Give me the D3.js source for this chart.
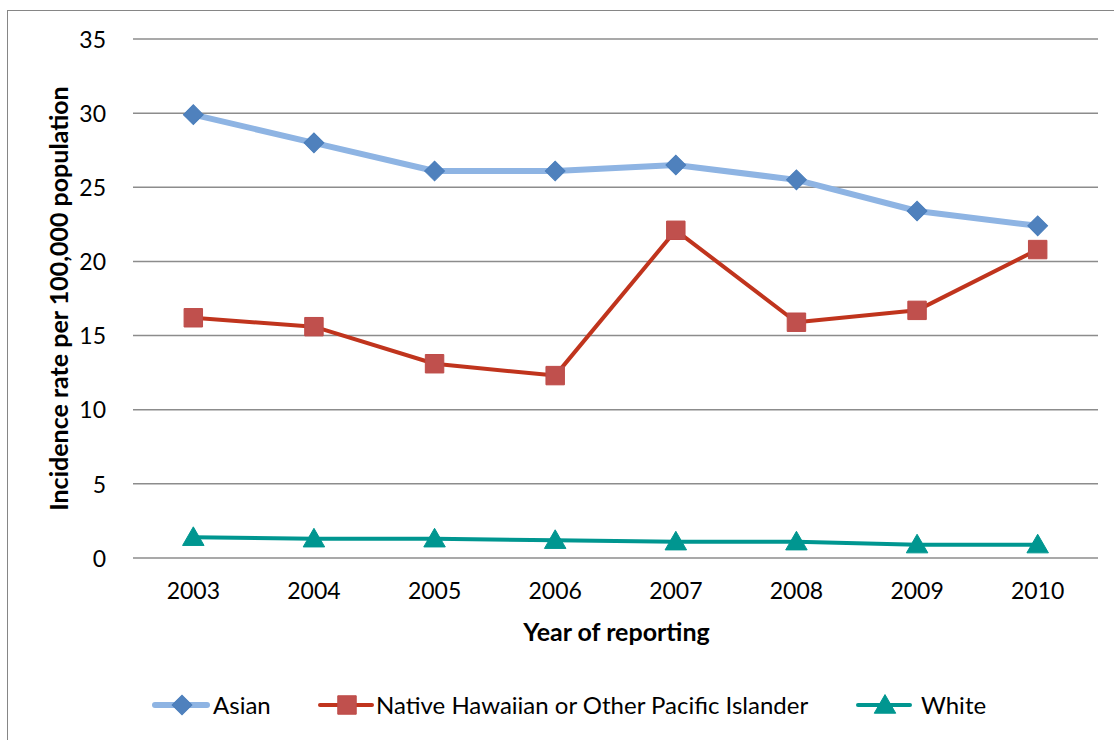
<!DOCTYPE html>
<html><head><meta charset="utf-8">
<script src="https://cdn.jsdelivr.net/npm/d3@7"></script>
<style>body{margin:0;background:#fff}svg{display:block}text{font-family:Lato,"Open Sans",sans-serif;fill:#000}</style>
</head><body><svg id="c" width="1114" height="740"></svg>
<script>
const years = ["2003","2004","2005","2006","2007","2008","2009","2010"];
const asian = [29.9,28.0,26.1,26.1,26.5,25.5,23.4,22.4];
const nhopi = [16.2,15.6,13.1,12.3,22.1,15.9,16.7,20.8];
const white = [1.4,1.3,1.3,1.2,1.1,1.1,0.9,0.9];
const yTicks = [0,5,10,15,20,25,30,35];
const seriesNames = ["Asian","Native Hawaiian or Other Pacific Islander","White"];

const svg = d3.select("#c");
svg.append("rect").attr("x",7.5).attr("y",10.5).attr("width",1120).attr("height",760)
  .attr("fill","#fff").attr("stroke","#868686").attr("stroke-width",1);

const L=133,R=1098,T=39,B=558;
const FS=23, LFS=24, TFS=25;
const x = d3.scaleBand().domain(years).range([L,R]);
const y = d3.scaleLinear().domain([0,35]).range([B,T]);
const cx = d => x(d)+x.bandwidth()/2;

svg.append("g").selectAll("line").data(yTicks).join("line")
  .attr("x1",L).attr("x2",R).attr("y1",d=>y(d)).attr("y2",d=>y(d))
  .attr("stroke","#8c8c8c").attr("stroke-width",1.5);

const yAxis = d3.axisLeft(y).tickValues(yTicks).tickSize(0).tickPadding(0);
const gy = svg.append("g").attr("transform",`translate(${L-27},0)`).call(yAxis);
gy.select(".domain").remove();
gy.selectAll("text").attr("font-size",FS).attr("font-family","Lato,sans-serif").attr("fill","#000").attr("dy","0.36em");

const xAxis = d3.axisBottom(x).tickSize(0).tickPadding(0);
const gx = svg.append("g").attr("transform",`translate(0,${B+33})`).call(xAxis);
gx.select(".domain").remove();
gx.selectAll("text").attr("font-size",FS).attr("font-family","Lato,sans-serif").attr("fill","#000").attr("dy","0.36em");

svg.append("text").attr("x",(L+R)/2+1).attr("y",641).attr("text-anchor","middle")
  .attr("font-size",TFS).attr("font-weight","bold").text("Year of reporting");
svg.append("text").attr("transform",`translate(68,${(T+B)/2}) rotate(-90)`).attr("text-anchor","middle")
  .attr("font-size",TFS).attr("font-weight","bold").text("Incidence rate per 100,000 population");

const sym = {
  diamond: d3.symbol().type(d3.symbolSquare).size(195),
  square: d3.symbol().type(d3.symbolSquare).size(340),
  triangle: d3.symbol().type(d3.symbolTriangle).size(200)
};
const series = [
  {name:seriesNames[0], vals:asian, line:"#8EB4E3", mk:"#4F81BD", mstroke:"#4A7EBB", w:6, shape:"diamond", rot:45},
  {name:seriesNames[1], vals:nhopi, line:"#C0341D", mk:"#C0504D", mstroke:"#BE4B48", w:4, shape:"square", rot:0},
  {name:seriesNames[2], vals:white, line:"#009690", mk:"#009690", mstroke:"#009690", w:4, shape:"triangle", rot:0}
];
const line = d3.line().x((d,i)=>cx(years[i])).y(d=>y(d));
series.forEach(s=>{
  svg.append("path").datum(s.vals).attr("d",line).attr("fill","none")
    .attr("stroke",s.line).attr("stroke-width",s.w).attr("stroke-linejoin","round");
  svg.append("g").selectAll("path").data(s.vals).join("path")
    .attr("d",sym[s.shape]).attr("fill",s.mk).attr("stroke",s.mstroke).attr("stroke-width",1)
    .attr("transform",(d,i)=>`translate(${cx(years[i])},${y(d)+(s.shape==="triangle"?2:0)}) rotate(${s.rot})`);
});

// legend
const legX = [155,320,858];
const legText = [213,376,921];
series.forEach((s,i)=>{
  const g = svg.append("g").attr("transform",`translate(${legX[i]},705)`);
  g.append("line").attr("x1",0).attr("x2",52).attr("y1",0).attr("y2",0)
    .attr("stroke",s.line).attr("stroke-width",s.w).attr("stroke-linecap","round");
  g.append("path").attr("d",sym[s.shape]).attr("fill",s.mk).attr("stroke",s.mstroke)
    .attr("transform",`translate(27,${s.shape==="triangle"?2:0}) rotate(${s.rot})`);
  svg.append("text").attr("x",legText[i]).attr("y",705).attr("dy","0.36em").attr("font-size",LFS).text(s.name);
});
</script></body></html>
